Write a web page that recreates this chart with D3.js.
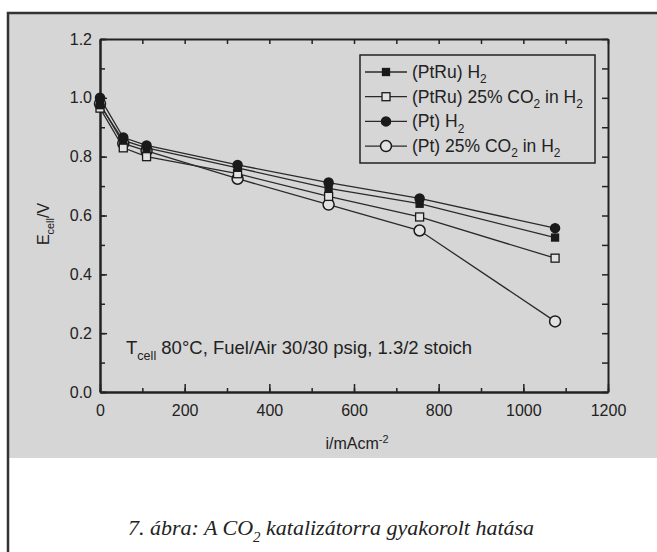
<!DOCTYPE html>
<html>
<head>
<meta charset="utf-8">
<script src="https://cdn.jsdelivr.net/npm/d3@7"></script>
<style>
  body { margin: 0; background: #fff; }
  svg { display: block; }
  text { font-family: "Liberation Sans", Arial, sans-serif; fill: #222; }
</style>
</head>
<body>
<script>
// current density, mA/cm2
const current = [0, 55, 110, 325, 540, 755, 1075];

// cell voltage, V
const ptruH2  = [0.975, 0.855, 0.830, 0.762, 0.692, 0.640, 0.525];
const ptruCO2 = [0.965, 0.830, 0.800, 0.742, 0.665, 0.595, 0.455];
const ptH2    = [1.000, 0.865, 0.838, 0.772, 0.712, 0.658, 0.557];
const ptCO2   = [0.980, 0.845, 0.820, 0.725, 0.637, 0.549, 0.240];

const xTicks = [0, 200, 400, 600, 800, 1000, 1200];
const yTicks = [0.0, 0.2, 0.4, 0.6, 0.8, 1.0, 1.2];

const series = [
  {name: [["(PtRu) H"], ["2", "sub"]], values: ptruH2, shape: "square", fill: true},
  {name: [["(PtRu) 25% CO"], ["2", "sub"], [" in H"], ["2", "sub"]], values: ptruCO2, shape: "square", fill: false},
  {name: [["(Pt) H"], ["2", "sub"]], values: ptH2, shape: "circle", fill: true},
  {name: [["(Pt) 25% CO"], ["2", "sub"], [" in H"], ["2", "sub"]], values: ptCO2, shape: "circle", fill: false}
];

const width = 657, height = 552;
const margin = {left: 100, right: 49, top: 39, bottom: 160};
const x0 = margin.left, x1 = width - margin.right;
const y0 = margin.top, y1 = height - margin.bottom;

const svg = d3.select("body").append("svg")
    .attr("width", width)
    .attr("height", height);

// scanned page background + frame
svg.append("rect")
    .attr("x", 8).attr("y", 13)
    .attr("width", width - 8).attr("height", 445)
    .attr("fill", "#d6d6d6");
svg.append("path")
    .attr("d", `M8,${height} L8,13 L${width},13`)
    .attr("fill", "none")
    .attr("stroke", "#333")
    .attr("stroke-width", 2.5);

const x = d3.scaleLinear().domain([0, 1200]).range([x0, x1]);
const y = d3.scaleLinear().domain([0, 1.2]).range([y1, y0]);

const ink = "#222";

// minor ticks every 100 / 0.1, major ticks every 200 / 0.2, all pointing inward
const xMinor = d3.range(0, 1201, 100);
const yMinor = d3.range(0, 13).map(d => d / 10);

function styleAxis(g) {
  g.selectAll("path, line").attr("stroke", ink);
  g.select(".domain").attr("stroke-width", 2);
  g.selectAll("line").attr("stroke-width", 1.5);
}

svg.append("g").attr("transform", `translate(0,${y1})`)
    .call(d3.axisBottom(x).tickValues(xMinor).tickSize(-4).tickSizeOuter(0).tickFormat(""))
    .call(styleAxis);
svg.append("g").attr("transform", `translate(0,${y1})`)
    .call(d3.axisBottom(x).tickValues(xTicks).tickSize(-8).tickSizeOuter(0).tickPadding(13).tickFormat(d3.format("d")))
    .call(styleAxis)
    .call(g => g.selectAll("text").attr("font-size", 16).attr("fill", ink).style("font-family", "Liberation Sans, Arial"));

svg.append("g").attr("transform", `translate(0,${y0})`)
    .call(d3.axisTop(x).tickValues(xMinor).tickSize(-5).tickSizeOuter(0).tickFormat(""))
    .call(styleAxis);

svg.append("g").attr("transform", `translate(${x0},0)`)
    .call(d3.axisLeft(y).tickValues(yMinor).tickSize(-5).tickSizeOuter(0).tickFormat(""))
    .call(styleAxis);
svg.append("g").attr("transform", `translate(${x0},0)`)
    .call(d3.axisLeft(y).tickValues(yTicks).tickSize(-7).tickSizeOuter(0).tickPadding(8).tickFormat(d3.format(".1f")))
    .call(styleAxis)
    .call(g => g.selectAll("text").attr("font-size", 16).attr("fill", ink).style("font-family", "Liberation Sans, Arial"));

svg.append("g").attr("transform", `translate(${x1},0)`)
    .call(d3.axisRight(y).tickValues(yMinor).tickSize(-6).tickSizeOuter(0).tickFormat(""))
    .call(styleAxis);

// lines
const line = d3.line()
    .x((d, i) => x(current[i]))
    .y(d => y(d));

svg.append("g").selectAll("path")
  .data(series)
  .join("path")
    .attr("d", d => line(d.values))
    .attr("fill", "none")
    .attr("stroke", "#2a2a2a")
    .attr("stroke-width", 1.3);

function drawMarker(g, s) {
  if (s.shape === "square") {
    const a = s.fill ? 7 : 8;
    g.append("rect")
        .attr("x", -a / 2).attr("y", -a / 2)
        .attr("width", a).attr("height", a)
        .attr("fill", s.fill ? "#1a1a1a" : "#e2e2e2")
        .attr("stroke", "#1a1a1a")
        .attr("stroke-width", 1.3);
  } else {
    g.append("circle")
        .attr("r", s.fill ? 4.5 : 5.5)
        .attr("fill", s.fill ? "#1a1a1a" : "#e2e2e2")
        .attr("stroke", "#1a1a1a")
        .attr("stroke-width", 1.5);
  }
}

// draw open markers first so filled ones sit on top
const drawOrder = [series[3], series[1], series[0], series[2]];
drawOrder.forEach(s => {
  s.values.forEach((v, i) => {
    const g = svg.append("g").attr("transform", `translate(${x(current[i])},${y(v)})`);
    drawMarker(g, s);
  });
});

// rich text helper: segments of [text, "sub"|"sup"]
function richText(t, segs, size) {
  let last = "normal";
  segs.forEach(([str, kind]) => {
    const ts = t.append("tspan").text(str);
    if (kind === "sub") ts.attr("font-size", size * 0.68).attr("dy", size * 0.3);
    else if (kind === "sup") ts.attr("font-size", size * 0.68).attr("dy", -size * 0.38);
    else ts.attr("dy", last === "sub" ? -size * 0.3 : last === "sup" ? size * 0.38 : 0);
    last = kind || "normal";
  });
  return t;
}

// legend
const legX = 360, legY = 55, legW = 235, legH = 108;
svg.append("rect")
    .attr("x", legX).attr("y", legY)
    .attr("width", legW).attr("height", legH)
    .attr("fill", "none")
    .attr("stroke", ink)
    .attr("stroke-width", 1.5);

series.forEach((s, i) => {
  const cy = 72 + i * 24.7;
  svg.append("line")
      .attr("x1", legX + 5).attr("x2", legX + 47)
      .attr("y1", cy).attr("y2", cy)
      .attr("stroke", "#2a2a2a").attr("stroke-width", 1.3);
  const g = svg.append("g").attr("transform", `translate(${legX + 26},${cy})`);
  drawMarker(g, {shape: s.shape, fill: s.fill});
  const t = svg.append("text")
      .attr("x", legX + 52).attr("y", cy + 6)
      .attr("font-size", 17.5);
  richText(t, s.name, 17.5);
});

// conditions note
richText(svg.append("text").attr("x", 126).attr("y", 354).attr("font-size", 18.5),
  [["T"], ["cell", "sub"], [" 80°C, Fuel/Air 30/30 psig, 1.3/2 stoich"]], 18.5);

// axis titles
richText(svg.append("text")
    .attr("transform", "translate(49,224) rotate(-90)")
    .attr("text-anchor", "middle")
    .attr("font-size", 16),
  [["E"], ["cell", "sub"], ["/V"]], 16);

richText(svg.append("text")
    .attr("x", (x0 + x1) / 2 + 3).attr("y", 449)
    .attr("text-anchor", "middle")
    .attr("font-size", 16),
  [["i/mAcm"], ["-2", "sup"]], 16);

// figure caption
const cap = svg.append("text")
    .attr("x", 331).attr("y", 535)
    .attr("text-anchor", "middle")
    .attr("font-size", 22)
    .attr("font-style", "italic")
    .style("font-family", "Liberation Serif, Times New Roman, serif")
    .attr("fill", "#111");
richText(cap, [["7. ábra: A CO"], ["2", "sub"], [" katalizátorra gyakorolt hatása"]], 22);
</script>
</body>
</html>
